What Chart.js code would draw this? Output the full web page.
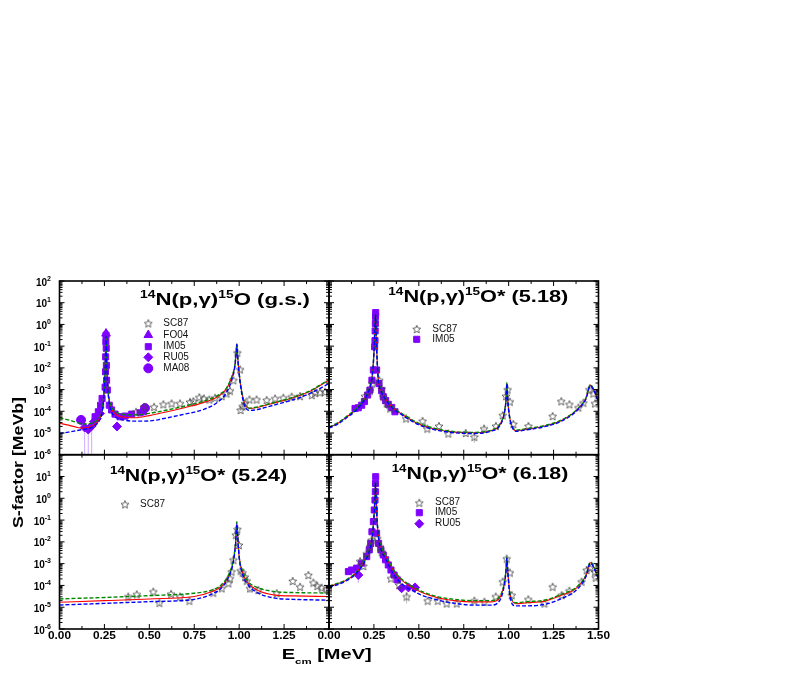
<!DOCTYPE html>
<html>
<head>
<meta charset="utf-8">
<script src="https://cdn.jsdelivr.net/npm/chart.js@4.4.0/dist/chart.umd.min.js"></script>
<style>
  body { margin: 0; background: #fff; }
  #wrap { position: relative; width: 789px; height: 678px; }
  #wrap canvas { position: absolute; left: 0; top: 0; }
</style>
</head>
<body>
<div id="wrap">
  <canvas id="c0" width="789" height="678"></canvas>
  <canvas id="c1" width="789" height="678"></canvas>
  <canvas id="c2" width="789" height="678"></canvas>
  <canvas id="c3" width="789" height="678"></canvas>
</div>
<script>
// ---- data: 14N(p,g)15O ground state ----
const gsE = [0, 0.05, 0.1, 0.13, 0.17, 0.2, 0.225, 0.24, 0.248, 0.253, 0.256, 0.259, 0.262, 0.266, 0.272, 0.285, 0.3, 0.33, 0.37, 0.42, 0.5, 0.6, 0.7, 0.8, 0.88, 0.93, 0.96, 0.975, 0.983, 0.987, 0.991, 0.998, 1.01, 1.03, 1.06, 1.1, 1.2, 1.3, 1.4, 1.5];
const gsRed = [2.8e-5, 2.3e-5, 1.8e-5, 1.7e-5, 1.9e-5, 2.6e-5, 5e-5, 1.5e-4, 8e-4, 5e-3, 4e-2, 3e-1, 3e-2, 3e-3, 6e-4, 1.6e-4, 9e-5, 6e-5, 5.2e-5, 5e-5, 6.3e-5, 9.5e-5, 1.5e-4, 2.5e-4, 4.7e-4, 1.1e-3, 3.9e-3, 1.1e-2, 4.6e-2, 1.25e-1, 3.9e-2, 8e-3, 1.3e-3, 2.3e-4, 1.35e-4, 1.5e-4, 2.5e-4, 4.2e-4, 8.9e-4, 2.75e-3];
const gsGreen = [5e-5, 4e-5, 3e-5, 2.6e-5, 2.7e-5, 3.4e-5, 6e-5, 1.7e-4, 9e-4, 5.5e-3, 4.5e-2, 3e-1, 3.3e-2, 3.3e-3, 7e-4, 2e-4, 1.2e-4, 8e-5, 7e-5, 6.8e-5, 8e-5, 1.15e-4, 1.75e-4, 2.9e-4, 5.3e-4, 1.2e-3, 4.2e-3, 1.2e-2, 5e-2, 1.3e-1, 4e-2, 8.5e-3, 1.4e-3, 2.4e-4, 1.4e-4, 1.6e-4, 2.6e-4, 4.4e-4, 9.3e-4, 2.9e-3];
const gsBlue = [9.5e-6, 1.1e-5, 1.3e-5, 1.45e-5, 1.7e-5, 2.3e-5, 4.2e-5, 1.3e-4, 7e-4, 4.5e-3, 3.8e-2, 2.8e-1, 2.8e-2, 2.6e-3, 5e-4, 1.2e-4, 6.5e-5, 4.5e-5, 3.8e-5, 3.5e-5, 3.6e-5, 5e-5, 7.5e-5, 1.2e-4, 2.6e-4, 7.5e-4, 3e-3, 1e-2, 4.3e-2, 1.2e-1, 3.7e-2, 7.5e-3, 1.1e-3, 1.8e-4, 1.1e-4, 1.2e-4, 2e-4, 3.4e-4, 7e-4, 1.9e-3];
const gsStarE = [0.426, 0.47, 0.526, 0.578, 0.624, 0.671, 0.726, 0.745, 0.778, 0.804, 0.834, 0.866, 0.903, 0.93, 0.949, 0.968, 0.99, 1.005, 1.008, 1.019, 1.032, 1.057, 1.097, 1.153, 1.2, 1.246, 1.292, 1.339, 1.404, 1.422, 1.45, 1.478];
const gsStarS = [9.5e-5, 1.6e-4, 1.6e-4, 2.1e-4, 2.3e-4, 2.3e-4, 2.7e-4, 2.9e-4, 4.4e-4, 3.9e-4, 3.5e-4, 4.2e-4, 5e-4, 6.6e-4, 8.9e-4, 2.7e-3, 5e-2, 8.5e-3, 1.15e-4, 1.7e-4, 2.3e-4, 3.5e-4, 3.5e-4, 3.3e-4, 3.9e-4, 4.2e-4, 4.7e-4, 5e-4, 5.6e-4, 7.1e-4, 7.4e-4, 7.9e-4];
const gsFoE = [0.259];
const gsFoS = [0.38];
const gsImE = [0.198, 0.216, 0.229, 0.237, 0.254, 0.256, 0.257, 0.258, 0.259, 0.26, 0.261, 0.262, 0.266, 0.277, 0.29, 0.309, 0.337, 0.365, 0.402, 0.448, 0.467];
const gsImS = [5.6e-5, 9.5e-5, 1.9e-4, 3.9e-4, 1.3e-3, 6.6e-3, 3.2e-2, 1.6e-1, 3.2e-1, 8e-2, 1.3e-2, 2.7e-3, 9.5e-4, 1.9e-4, 1.15e-4, 7.4e-5, 5.6e-5, 6e-5, 7.4e-5, 8.5e-5, 9.5e-5];
const gsRuE = [0.14, 0.16, 0.179, 0.192, 0.207, 0.225, 0.32];
const gsRuS = [1.8e-5, 1.45e-5, 2.1e-5, 3.3e-5, 4.7e-5, 7.9e-5, 2e-5];
const gsMaE = [0.12, 0.476];
const gsMaS = [4e-5, 1.4e-4];
const gsErrE = [0.12, 0.14, 0.16, 0.179, 0.32];
const gsErrLo = [2.2e-5, 1e-6, 1e-6, 1e-6, 1.2e-5];
const gsErrHi = [6.5e-5, 3e-5, 2.5e-5, 3.2e-5, 3e-5];

// ---- data: 15O* (5.18) ----
const e518E = [0, 0.05, 0.1, 0.15, 0.2, 0.225, 0.24, 0.25, 0.255, 0.259, 0.263, 0.268, 0.275, 0.29, 0.32, 0.36, 0.4, 0.5, 0.6, 0.7, 0.8, 0.9, 0.95, 0.975, 0.985, 0.99, 0.995, 1.005, 1.02, 1.04, 1.1, 1.2, 1.3, 1.38, 1.43, 1.455, 1.47, 1.49, 1.5];
const e518Red = [1.8e-5, 2.8e-5, 5.6e-5, 1.2e-4, 3.9e-4, 1.1e-3, 3.9e-3, 4.7e-2, 5.5e-1, 3.0, 2.7e-1, 2.3e-2, 2.8e-3, 9.5e-4, 3.3e-4, 1.35e-4, 7.9e-5, 2.6e-5, 1.45e-5, 1.1e-5, 1.02e-5, 1.27e-5, 2.3e-5, 7.9e-5, 3.3e-4, 2e-3, 3.3e-4, 5.6e-5, 1.95e-5, 1.27e-5, 1.5e-5, 2.1e-5, 4e-5, 1.15e-4, 3.9e-4, 1.6e-3, 1.1e-3, 4.7e-4, 2.3e-4];
const e518Green = [1.9e-5, 3e-5, 6e-5, 1.3e-4, 4.1e-4, 1.15e-3, 4.1e-3, 5e-2, 5.8e-1, 3.1, 2.9e-1, 2.4e-2, 3e-3, 1e-3, 3.5e-4, 1.45e-4, 8.4e-5, 2.8e-5, 1.55e-5, 1.15e-5, 1.07e-5, 1.33e-5, 2.5e-5, 8.4e-5, 3.5e-4, 2.1e-3, 3.5e-4, 6e-5, 2.05e-5, 1.35e-5, 1.6e-5, 2.2e-5, 4.2e-5, 1.2e-4, 4.1e-4, 1.7e-3, 1.15e-3, 5e-4, 2.4e-4];
const e518Blue = [1.7e-5, 2.6e-5, 5.2e-5, 1.1e-4, 3.7e-4, 1.05e-3, 3.7e-3, 4.4e-2, 5.2e-1, 2.9, 2.5e-1, 2.1e-2, 2.6e-3, 8.8e-4, 3.1e-4, 1.25e-4, 7.3e-5, 2.4e-5, 1.35e-5, 1.02e-5, 9.5e-6, 1.2e-5, 2.15e-5, 7.4e-5, 3.1e-4, 1.9e-3, 3.1e-4, 5.2e-5, 1.85e-5, 1.2e-5, 1.4e-5, 1.95e-5, 3.7e-5, 1.08e-4, 3.7e-4, 1.5e-3, 1.05e-3, 4.4e-4, 2.2e-4];
const e518StarE = [0.2, 0.228, 0.241, 0.28, 0.293, 0.302, 0.321, 0.34, 0.429, 0.521, 0.547, 0.612, 0.664, 0.761, 0.809, 0.863, 0.929, 0.967, 0.985, 0.994, 1.007, 1.026, 1.11, 1.245, 1.293, 1.338, 1.388, 1.416, 1.449, 1.471, 1.48];
const e518StarS = [5e-4, 8.9e-4, 1.9e-3, 2.7e-3, 1.1e-3, 4.7e-4, 2.3e-4, 1.35e-4, 4.7e-5, 3.6e-5, 1.6e-5, 2.1e-5, 9.5e-6, 1e-5, 6.7e-6, 1.6e-5, 2.1e-5, 6.6e-5, 5e-4, 1e-3, 2.8e-4, 2.6e-5, 2.1e-5, 6e-5, 2.9e-4, 2.1e-4, 1.5e-4, 2.5e-4, 1e-3, 6.6e-4, 2.3e-4];
const e518ImE = [0.145, 0.163, 0.182, 0.197, 0.215, 0.228, 0.239, 0.247, 0.254, 0.256, 0.257, 0.258, 0.259, 0.26, 0.265, 0.278, 0.293, 0.302, 0.315, 0.33, 0.349, 0.367];
const e518ImS = [1.35e-4, 1.45e-4, 1.9e-4, 2.8e-4, 5.6e-4, 9.5e-4, 2.7e-3, 8e-3, 9.3e-2, 0.18, 0.5, 1.1, 2.3, 3.5, 8e-3, 1.9e-3, 8.9e-4, 4.7e-4, 3.1e-4, 2.1e-4, 1.5e-4, 9.5e-5];
const e518ErrE = [0.809, 0.863];
const e518ErrLo = [3.5e-6, 1.2e-5];
const e518ErrHi = [9e-6, 2e-5];

// ---- data: 15O* (5.24) ----
const e524E = [0, 0.25, 0.5, 0.75, 0.85, 0.9, 0.94, 0.965, 0.98, 0.987, 0.993, 1.0, 1.02, 1.05, 1.1, 1.2, 1.3, 1.5];
const e524Red = [1.7e-5, 2e-5, 2.4e-5, 3.1e-5, 5.2e-5, 8.8e-5, 2.5e-4, 1.05e-3, 8.6e-3, 7e-2, 1.2e-2, 2.1e-3, 3.6e-4, 1.26e-4, 6.2e-5, 3.6e-5, 3.3e-5, 3.1e-5];
const e524Green = [2.4e-5, 2.8e-5, 3.4e-5, 4.4e-5, 6.2e-5, 1.05e-4, 3e-4, 1.2e-3, 9.2e-3, 8.5e-2, 1.45e-2, 2.2e-3, 4.3e-4, 1.5e-4, 8.1e-5, 5.2e-5, 4.7e-5, 4.5e-5];
const e524Blue = [1.26e-5, 1.5e-5, 1.8e-5, 2.3e-5, 4.1e-5, 7.4e-5, 2.3e-4, 9.5e-4, 8e-3, 6.6e-2, 1.15e-2, 1.9e-3, 3e-4, 1.05e-4, 4.7e-5, 2.6e-5, 2.3e-5, 2.1e-5];
const e524StarE = [0.383, 0.43, 0.522, 0.556, 0.621, 0.671, 0.723, 0.856, 0.903, 0.94, 0.949, 0.958, 0.968, 0.981, 0.99, 0.999, 1.008, 1.019, 1.032, 1.042, 1.06, 1.107, 1.209, 1.298, 1.339, 1.385, 1.413, 1.435, 1.459, 1.487];
const e524StarS = [3.1e-5, 3.9e-5, 5.2e-5, 1.6e-5, 4.1e-5, 3.1e-5, 2e-5, 4.7e-5, 7.4e-5, 1.26e-4, 2.1e-4, 4.3e-4, 1.5e-3, 2.1e-2, 3.8e-2, 7.2e-3, 4.8e-4, 3.9e-4, 2.5e-4, 1.65e-4, 7.4e-5, 6.2e-5, 4.4e-5, 1.6e-4, 8.7e-5, 3e-4, 1.35e-4, 9.5e-5, 7.9e-5, 6.6e-5];
const e524ErrE = [0.383, 0.556, 1.06];
const e524ErrLo = [2e-5, 1.2e-5, 4.5e-5];
const e524ErrHi = [4e-5, 2e-5, 9e-5];

// ---- data: 15O* (6.18) ----
const e618E = [0, 0.05, 0.1, 0.15, 0.2, 0.225, 0.24, 0.25, 0.255, 0.259, 0.263, 0.268, 0.275, 0.29, 0.32, 0.36, 0.4, 0.5, 0.6, 0.7, 0.8, 0.9, 0.95, 0.975, 0.985, 0.99, 0.995, 1.005, 1.02, 1.04, 1.1, 1.2, 1.3, 1.38, 1.43, 1.455, 1.47, 1.49, 1.5];
const e618Red = [9e-5, 1.2e-4, 1.8e-4, 3.7e-4, 1.45e-3, 4.2e-3, 1.65e-2, 1.3e-1, 8e-1, 5.5, 8e-1, 9.5e-2, 1.9e-2, 5.6e-3, 1.9e-3, 4.6e-4, 1.9e-4, 5.5e-5, 2.8e-5, 2e-5, 1.75e-5, 1.75e-5, 2.7e-5, 1.15e-4, 4.8e-4, 1.85e-3, 4.8e-4, 5.5e-5, 1.9e-5, 1.45e-5, 1.6e-5, 1.9e-5, 3.7e-5, 8e-5, 2.8e-4, 1.1e-3, 8e-4, 3.4e-4, 2e-4];
const e618Green = [9.5e-5, 1.26e-4, 1.9e-4, 3.9e-4, 1.5e-3, 4.3e-3, 1.7e-2, 1.4e-1, 8.3e-1, 5.8, 8.3e-1, 1e-1, 2e-2, 6e-3, 2.1e-3, 5.1e-4, 2.1e-4, 6.2e-5, 3.1e-5, 2.3e-5, 2e-5, 2e-5, 3.1e-5, 1.26e-4, 5.1e-4, 1.95e-3, 5.1e-4, 6.2e-5, 2.1e-5, 1.6e-5, 1.8e-5, 2.1e-5, 4.1e-5, 8.7e-5, 3e-4, 1.2e-3, 8.7e-4, 3.6e-4, 2.1e-4];
const e618Blue = [8.1e-5, 1.1e-4, 1.7e-4, 3.4e-4, 1.3e-3, 3.8e-3, 1.5e-2, 1.2e-1, 7.5e-1, 5.3, 7.5e-1, 8.5e-2, 1.6e-2, 4.5e-3, 1.4e-3, 3.2e-4, 1.3e-4, 4.1e-5, 2.2e-5, 1.5e-5, 1.25e-5, 1.25e-5, 2e-5, 9.5e-5, 4.3e-4, 1.8e-3, 4.3e-4, 4.2e-5, 1.4e-5, 1.15e-5, 1.15e-5, 1.35e-5, 2.6e-5, 6.5e-5, 2.5e-4, 1.05e-3, 7.5e-4, 3.1e-4, 1.9e-4];
const e618StarE = [0.173, 0.191, 0.21, 0.228, 0.237, 0.269, 0.284, 0.293, 0.345, 0.39, 0.432, 0.549, 0.605, 0.655, 0.711, 0.809, 0.865, 0.928, 0.967, 0.989, 1.007, 1.017, 1.109, 1.199, 1.245, 1.295, 1.338, 1.406, 1.434, 1.453, 1.48, 1.484];
const e618StarS = [1.3e-3, 7.8e-4, 2.9e-3, 6e-3, 1.2e-2, 1.45e-2, 6e-3, 3.5e-3, 2.1e-4, 1.05e-4, 3.1e-5, 2e-5, 2e-5, 1.5e-5, 1.5e-5, 2e-5, 1.8e-5, 3.1e-5, 1.5e-4, 1.7e-3, 3.9e-4, 3.6e-5, 2.3e-5, 1.5e-5, 8.7e-5, 3.6e-5, 5.7e-5, 1.5e-4, 5.1e-4, 6.2e-4, 4.3e-4, 2.3e-4];
const e618ImE = [0.108, 0.126, 0.154, 0.182, 0.21, 0.224, 0.232, 0.239, 0.247, 0.252, 0.256, 0.258, 0.259, 0.26, 0.265, 0.276, 0.289, 0.302, 0.315, 0.33, 0.345, 0.362, 0.38];
const e618ImS = [4.3e-4, 5.1e-4, 6.2e-4, 1.05e-3, 2.1e-3, 4.3e-3, 8.5e-3, 2.9e-2, 8.5e-2, 0.29, 0.83, 2, 4.8, 9.8, 2.5e-2, 8.5e-3, 4.3e-3, 2.5e-3, 1.5e-3, 8.7e-4, 5.1e-4, 3e-4, 1.8e-4];
const e618RuE = [0.163, 0.404, 0.442, 0.479];
const e618RuS = [3e-4, 7.4e-5, 8.1e-5, 8.1e-5];
const e618ErrE = [0.163];
const e618ErrLo = [1.3e-4];
const e618ErrHi = [4e-4];
const e618StarErrE = [0.432];
const e618StarErrLo = [1.5e-5];
const e618StarErrHi = [5e-5];

// tick labels
const xTickLabels = ['0.00', '0.25', '0.50', '0.75', '1.00', '1.25', '1.50'];
const xTickValues = [0, 0.25, 0.5, 0.75, 1, 1.25, 1.5];

// ---- layout ----
const PX = [59.5, 329, 598.5];
const PY = [281, 454.7, 629];
const W = 789, H = 678;
const FONT = '"Liberation Sans", Arial, Helvetica, sans-serif';
const PURPLE = '#8000ff';

function makeStar(size, color) {
    const c = document.createElement('canvas');
    c.width = c.height = size;
    const g = c.getContext('2d');
    const r = size / 2 - 0.8, ri = r * 0.45, m = size / 2;
    g.beginPath();
    for (let i = 0; i < 10; i++) {
        const a = -Math.PI / 2 + i * Math.PI / 5;
        const rr = i % 2 ? ri : r;
        g.lineTo(m + rr * Math.cos(a), m + 0.5 + rr * Math.sin(a));
    }
    g.closePath();
    g.strokeStyle = color;
    g.lineWidth = 0.8;
    g.stroke();
    return c;
}
const STAR = makeStar(10, '#444');

const pts = (xs, ys) => xs.map((x, i) => ({ x, y: ys[i] }));

// red sits under the two dashed fits, all of them above the data marks
function curveSets(xs, red, green, blue) {
    const base = { showLine: true, pointRadius: 0, cubicInterpolationMode: 'monotone', fill: false };
    return [
        { ...base, label: 'red', data: pts(xs, red), borderColor: '#ff0000', borderWidth: 1.1, order: 0.3 },
        { ...base, label: 'green', data: pts(xs, green), borderColor: '#008800', borderWidth: 1.4, borderDash: [4, 2], order: 0.2 },
        { ...base, label: 'blue', data: pts(xs, blue), borderColor: '#0000ff', borderWidth: 1.4, borderDash: [4, 2], order: 0.1 }
    ];
}

function pointSet(label, xs, ys, style, radius, color) {
    return { label, key: true, data: pts(xs, ys), pointStyle: style, pointRadius: radius,
             backgroundColor: color, borderColor: color, borderWidth: 1, order: 1 };
}

function errSet(xs, lo, hi, color) {
    const data = xs.flatMap((x, i) => [{ x, y: lo[i] }, { x, y: hi[i] }, { x, y: null }]);
    return { label: 'err', data, showLine: true, spanGaps: false, pointRadius: 0, borderColor: color, borderWidth: 1, order: 2 };
}

// draws runs of text, stretched horizontally to the target width
function drawRuns(ctx, runs, x, y, w, align) {
    let nat = 0;
    runs.forEach(r => { ctx.font = `${r.weight || 'bold'} ${r.size}px ${FONT}`; nat += ctx.measureText(r.t).width; });
    const sx = w ? w / nat : 1;
    const total = nat * sx;
    const x0 = align === 'center' ? x - total / 2 : align === 'right' ? x - total : x;
    ctx.save();
    ctx.translate(x0, y);
    ctx.scale(sx, 1);
    let cx = 0;
    runs.forEach(r => {
        ctx.font = `${r.weight || 'bold'} ${r.size}px ${FONT}`;
        ctx.fillText(r.t, cx, r.dy || 0);
        cx += ctx.measureText(r.t).width;
    });
    ctx.restore();
}

const panelPlugin = {
    id: 'panel',
    afterDatasetsDraw(chart, args, o) {
        const { ctx, chartArea: a } = chart;
        const xs = chart.scales.x, ys = chart.scales.y;
        ctx.save();
        ctx.fillStyle = '#000';
        ctx.strokeStyle = '#000';
        ctx.textBaseline = 'alphabetic';

        // frame
        ctx.lineWidth = 1.6;
        ctx.strokeRect(a.left, a.top, a.right - a.left, a.bottom - a.top);

        // inward ticks
        ctx.lineWidth = 1;
        ctx.beginPath();
        for (let i = 0; i <= 12; i++) {
            const px = xs.getPixelForValue(i * 0.125), len = i % 2 ? 3 : 5;
            ctx.moveTo(px, a.bottom); ctx.lineTo(px, a.bottom - len);
            ctx.moveTo(px, a.top); ctx.lineTo(px, a.top + len);
        }
        for (let d = -6; d <= 2; d++) {
            for (let k = 1; k <= 9; k++) {
                if (d === 2 && k > 1) break;
                const py = ys.getPixelForValue(k * Math.pow(10, d)), len = k === 1 ? 5 : 3;
                ctx.moveTo(a.left, py); ctx.lineTo(a.left + len, py);
                ctx.moveTo(a.right, py); ctx.lineTo(a.right - len, py);
            }
        }
        ctx.stroke();

        // y tick labels
        if (o.yLabels) {
            for (let d = o.yLabels[0]; d <= o.yLabels[1]; d++) {
                const py = ys.getPixelForValue(Math.pow(10, d));
                drawRuns(ctx, [{ t: '10', size: 10 }, { t: String(d), size: 7, dy: -5 }], a.left - 8.5, py + 4.5, 0, 'right');
            }
        }
        // x tick labels
        if (o.xLabels) {
            o.xLabels.forEach(i => {
                const px = xs.getPixelForValue(xTickValues[i]);
                drawRuns(ctx, [{ t: xTickLabels[i], size: 10 }], px, a.bottom + 10, 23, 'center');
            });
        }
        // panel title
        const t = o.title;
        drawRuns(ctx, [{ t: '14', size: 10, dy: -7 }, { t: 'N(p,γ)', size: 16 }, { t: '15', size: 10, dy: -7 }, { t: t.rest, size: 16 }], t.x, t.y, t.w, 'left');

        // key
        const key = o.key;
        const keyed = chart.data.datasets.filter(ds => ds.key);
        keyed.forEach((ds, i) => {
            const yy = key.ys[i];
            ctx.fillStyle = ds.backgroundColor;
            ctx.strokeStyle = ds.borderColor;
            ctx.lineWidth = 1;
            Chart.helpers.drawPoint(ctx, { pointStyle: ds.pointStyle, radius: ds.pointRadius, borderWidth: 1, rotation: 0 }, key.sx, yy);
            ctx.fillStyle = '#111';
            ctx.font = `10px ${FONT}`;
            ctx.textBaseline = 'middle';
            ctx.fillText(ds.label, key.tx, yy);
            ctx.textBaseline = 'alphabetic';
        });
        ctx.fillStyle = '#000';

        // axis titles
        if (o.yTitle) {
            ctx.save();
            ctx.translate(17, 462.5);
            ctx.rotate(-Math.PI / 2);
            drawRuns(ctx, [{ t: 'S-factor [MeVb]', size: 15 }], 0, 5.5, 131, 'center');
            ctx.restore();
        }
        if (o.xTitle) {
            drawRuns(ctx, [{ t: 'E', size: 14 }, { t: 'cm', size: 8, dy: 5 }, { t: ' [MeV]', size: 14 }], 281.7, 658.7, 90, 'left');
        }
        ctx.restore();
    }
};

function makePanel(id, col, row, datasets, opts) {
    return new Chart(document.getElementById(id), {
        type: 'scatter',
        data: { datasets },
        options: {
            responsive: false,
            animation: false,
            events: [],
            layout: {
                autoPadding: false,
                padding: { left: PX[col], right: W - PX[col + 1], top: PY[row], bottom: H - PY[row + 1] }
            },
            scales: {
                x: { type: 'linear', min: 0, max: 1.5, display: false },
                y: { type: 'logarithmic', min: 1e-6, max: 100, display: false }
            },
            plugins: { legend: { display: false }, tooltip: { enabled: false }, panel: opts }
        },
        plugins: [panelPlugin]
    });
}

makePanel('c0', 0, 0, [
    pointSet('SC87', gsStarE, gsStarS, STAR, 4, '#444'),
    pointSet('FO04', gsFoE, gsFoS, 'triangle', 5, PURPLE),
    pointSet('IM05', gsImE, gsImS, 'rect', 4.3, PURPLE),
    pointSet('RU05', gsRuE, gsRuS, 'rectRot', 4.5, PURPLE),
    pointSet('MA08', gsMaE, gsMaS, 'circle', 4.5, PURPLE),
    errSet(gsErrE, gsErrLo, gsErrHi, '#cfaaff'),
    ...curveSets(gsE, gsRed, gsGreen, gsBlue)
], {
    yLabels: [-6, 2], yTitle: true,
    title: { rest: 'O (g.s.)', x: 140, y: 305, w: 170 },
    key: { sx: 148.3, tx: 163.3, ys: [323.3, 335, 346.7, 357.3, 368.3] }
});

makePanel('c1', 1, 0, [
    pointSet('SC87', e518StarE, e518StarS, STAR, 4, '#444'),
    pointSet('IM05', e518ImE, e518ImS, 'rect', 4.3, PURPLE),
    errSet(e518ErrE, e518ErrLo, e518ErrHi, '#bbbbbb'),
    ...curveSets(e518E, e518Red, e518Green, e518Blue)
], {
    title: { rest: 'O* (5.18)', x: 388.3, y: 301.7, w: 180 },
    key: { sx: 416.7, tx: 432.3, ys: [329, 339.3] }
});

makePanel('c2', 0, 1, [
    pointSet('SC87', e524StarE, e524StarS, STAR, 4, '#444'),
    errSet(e524ErrE, e524ErrLo, e524ErrHi, '#bbbbbb'),
    ...curveSets(e524E, e524Red, e524Green, e524Blue)
], {
    yLabels: [-6, 1], xLabels: [0, 1, 2, 3, 4, 5], xTitle: true,
    title: { rest: 'O* (5.24)', x: 110, y: 481, w: 177 },
    key: { sx: 125, tx: 140, ys: [504.3] }
});

makePanel('c3', 1, 1, [
    pointSet('SC87', e618StarE, e618StarS, STAR, 4, '#444'),
    pointSet('IM05', e618ImE, e618ImS, 'rect', 4.3, PURPLE),
    pointSet('RU05', e618RuE, e618RuS, 'rectRot', 4.5, PURPLE),
    errSet(e618ErrE, e618ErrLo, e618ErrHi, '#cfaaff'),
    errSet(e618StarErrE, e618StarErrLo, e618StarErrHi, '#bbbbbb'),
    ...curveSets(e618E, e618Red, e618Green, e618Blue)
], {
    xLabels: [0, 1, 2, 3, 4, 5, 6],
    title: { rest: 'O* (6.18)', x: 391.7, y: 479.3, w: 176.6 },
    key: { sx: 419.3, tx: 435, ys: [502.7, 512.7, 523.7] }
});
</script>
</body>
</html>
